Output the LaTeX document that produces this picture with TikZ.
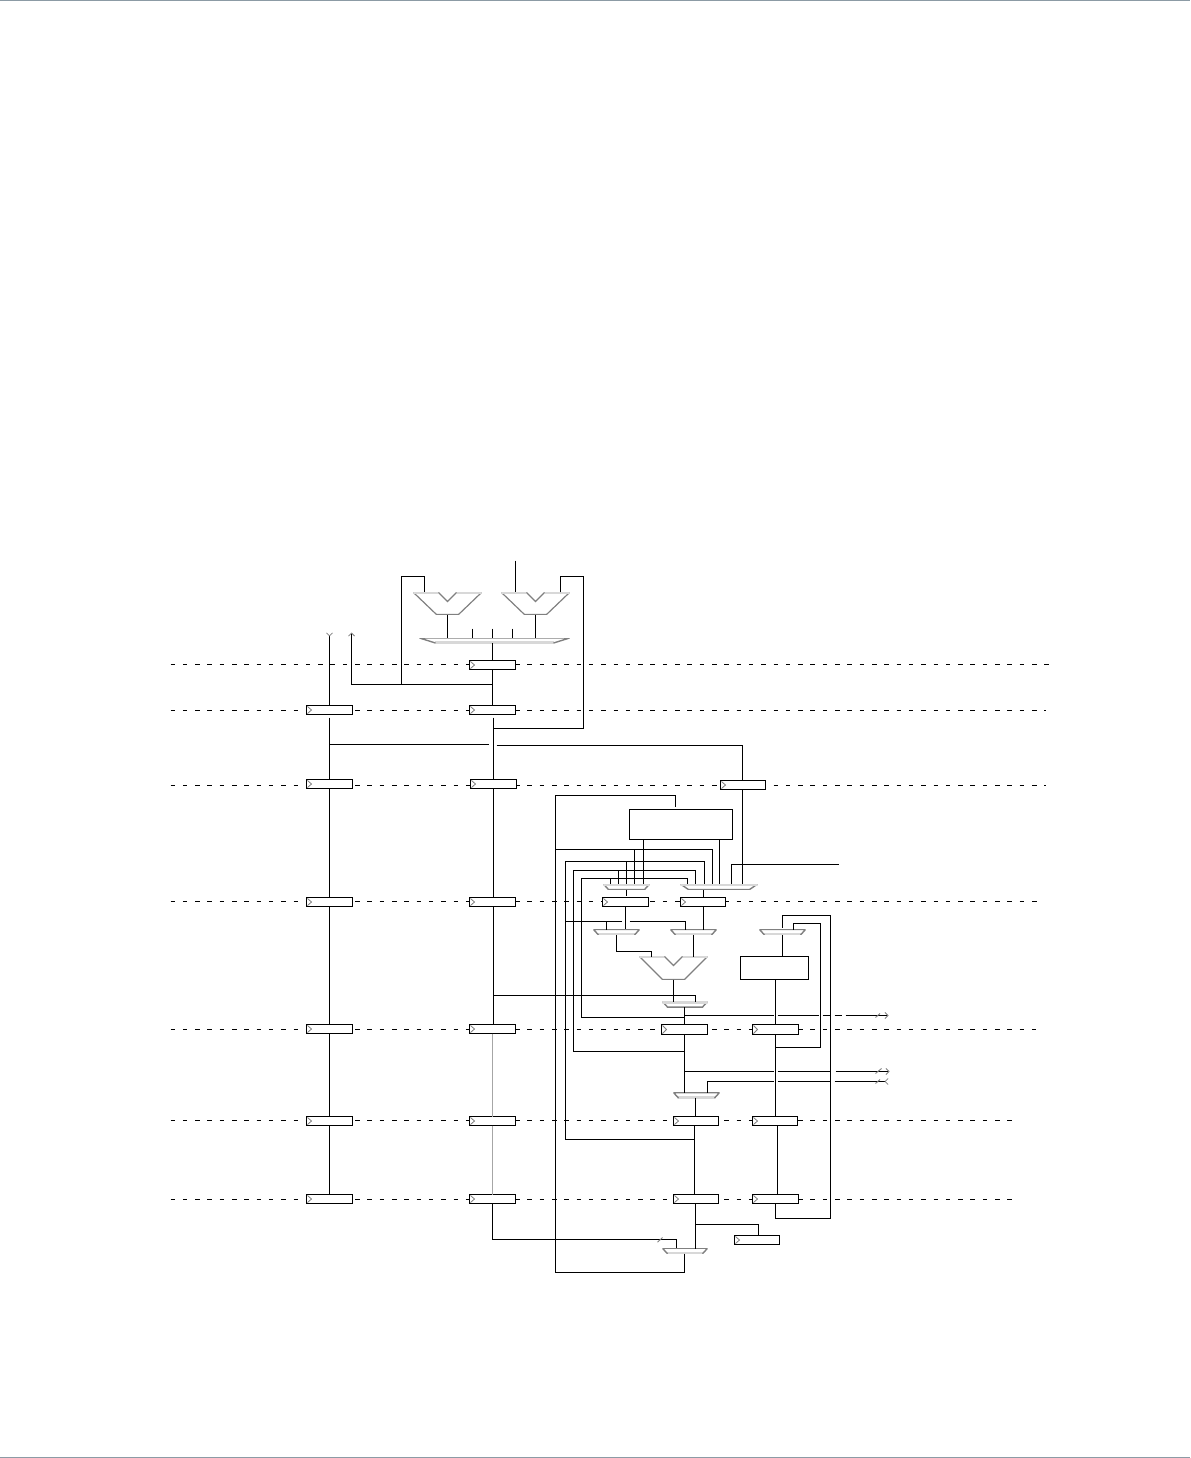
\documentclass[tikz,border=0pt]{standalone}
\usepackage{tikz}
\usetikzlibrary{arrows.meta,calc}
\definecolor{rulegray}{HTML}{8C9BA5}
\definecolor{ink}{HTML}{000000}
\definecolor{muted}{HTML}{808080}
\definecolor{pale}{HTML}{D8D8D8}
\tikzset{
  wire/.style={draw=ink,line width=0.0105cm},
  fadewire/.style={draw=muted!70,line width=0.0105cm},
  stage/.style={draw=ink,line width=0.0105cm,dash pattern=on 0.045cm off 0.078cm},
  slash/.style={draw=muted,line width=0.009cm},
  outtip/.style={-{Straight Barb[length=0.03cm,width=0.06cm,color=muted,line width=0.008cm]}},
  intip/.style={-{Straight Barb[reversed,length=0.03cm,width=0.06cm,color=muted,line width=0.008cm]}},
  regbox/.style={draw=ink,fill=white,line width=0.0105cm,inner sep=0pt,outer sep=0pt,
    minimum width=0.46cm,minimum height=0.09cm,
    path picture={\draw[muted,line width=0.008cm]
      ($(path picture bounding box.north west)+(1,1)$)--
      ($(path picture bounding box.west)+(5,0)$)--
      ($(path picture bounding box.south west)+(1,-1)$);}},
  blockbox/.style={draw=ink,fill=white,line width=0.0105cm,inner sep=0pt,outer sep=0pt},
  muxbox/.style={inner sep=0pt,outer sep=0pt,minimum width=0.46cm,minimum height=0.055cm,
    path picture={
      \draw[muted,line width=0.014cm]
        (path picture bounding box.north west)--
        ($(path picture bounding box.south west)+(#1,0)$)--
        ($(path picture bounding box.south east)+(-#1,0)$)--
        (path picture bounding box.north east);
      \draw[pale,line width=0.04cm]
        (path picture bounding box.north west)--(path picture bounding box.north east);}},
  muxbox/.default=5,
  muxlow/.style={inner sep=0pt,outer sep=0pt,minimum width=0.46cm,minimum height=0.055cm,
    path picture={
      \draw[pale,line width=0.04cm]
        ($(path picture bounding box.south west)+(#1,0)$)--
        ($(path picture bounding box.south east)+(-#1,0)$);
      \draw[muted,line width=0.014cm]
        ($(path picture bounding box.south west)+(#1,0)$)--
        (path picture bounding box.north west)--
        (path picture bounding box.north east)--
        ($(path picture bounding box.south east)+(-#1,0)$);}},
  muxlow/.default=5,
  alubox/.style={inner sep=0pt,outer sep=0pt,minimum width=0.68cm,minimum height=0.22cm,
    path picture={
      \draw[muted,line width=0.012cm]
        ($(path picture bounding box.north west)+(25,0)$)--
        ($(path picture bounding box.north)+(0,9)$)--
        ($(path picture bounding box.north east)+(-25,0)$);
      \draw[muted,line width=0.012cm]
        (path picture bounding box.north west)--
        ($(path picture bounding box.south west)+(23,0)$)--
        ($(path picture bounding box.south east)+(-23,0)$)--
        (path picture bounding box.north east);
      \draw[pale,line width=0.03cm]
        (path picture bounding box.north west)--++(25,0)
        (path picture bounding box.north east)--++(-25,0);}}
}
\begin{document}
\begin{tikzpicture}[x=0.01cm,y=-0.01cm,line cap=butt,line join=miter]
  \useasboundingbox (0,0) rectangle (1190,1458);
  \fill[rulegray] (0,0) rectangle (1190,1.4);
  \fill[rulegray] (0,1456.8) rectangle (1190,1458);

  \begin{scope}[shift={(0.5,0.5)}]
  % Stage lines
  \foreach \y/\xe in {664/1050,710/1045,785/1045,901/1040,1029/1035,1120/1015,1199/1015}
    \draw[stage] (170,\y)--(\xe,\y);

  % Registers
  \foreach \i/\y in {2/709.5,3/783.5,4/901.5,5/1028.5,6/1120.5,7/1198.5}
    \node[regbox] (regl\i) at (329,\y) {};
  \foreach \i/\x/\y in {1/492/664.5,2/492/709.5,3/493/783.5,4/492/901.5,5/492/1028.5,6/492/1120.5,7/492/1198.5}
    \node[regbox] (regm\i) at (\x,\y) {};
  \node[regbox,minimum width=0.45cm] (regc) at (742.5,784.5) {};
  \node[regbox] (rega1) at (625,901.5) {};
  \node[regbox,minimum width=0.45cm] (rega2) at (702.5,901.5) {};
  \node[regbox,minimum height=0.10cm] (regb1) at (684,1029) {};
  \node[regbox,minimum height=0.10cm] (regb2) at (775,1029) {};
  \node[regbox,minimum width=0.45cm] (regb3) at (695.5,1120.5) {};
  \node[regbox,minimum width=0.45cm] (regb4) at (774.5,1120.5) {};
  \node[regbox,minimum width=0.45cm] (regb5) at (695.5,1198.5) {};
  \node[regbox] (regb6) at (775,1198.5) {};
  \node[regbox,minimum width=0.45cm] (regd) at (756.5,1239.5) {};

  % Blocks
  \node[blockbox,minimum width=1.03cm,minimum height=0.30cm] (boxa) at (680.5,824) {};
  \node[blockbox,minimum width=0.68cm,minimum height=0.23cm] (boxb) at (774,967.5) {};
  \node[alubox] (alua) at (447,603) {};
  \node[alubox] (alub) at (535,603) {};
  \node[alubox,minimum height=0.23cm] (aluc) at (673,967.5) {};

  % Muxes
  \node[muxlow=16,minimum width=1.50cm,minimum height=0.05cm] (muxbig) at (494,640) {};
  \node[muxbox] (mux1) at (626,886.3) {};
  \node[muxbox=8,minimum width=0.77cm] (mux2) at (718.5,886.3) {};
  \node[muxlow] (mux3) at (616,931.7) {};
  \node[muxlow] (mux4) at (693,931.7) {};
  \node[muxlow] (mux5) at (782,931.7) {};
  \node[muxbox,minimum width=0.45cm] (mux6) at (684.5,1003.8) {};
  \node[muxlow] (mux7) at (696,1094.8) {};
  \node[muxlow,minimum width=0.45cm] (mux8) at (684.5,1250.5) {};

  % Top loop
  \coordinate (inb) at (515,560);
  \coordinate (fbla) at (424,576);
  \coordinate (fblb) at (401,684);
  \coordinate (fbra) at (560,576);
  \coordinate (fbrb) at (583,728);
  \coordinate (tapb) at (493,728);
  \coordinate (tapa) at (492,684);
  \coordinate (outa) at (351,632);
  \coordinate (inl) at (329,632);
  \draw[wire] (inb)--(inb |- alub.north);
  \draw[wire] (fblb) |- (fbla)--(fbla |- alua.north);
  \draw[wire] (fbra |- alub.north)--(fbra) -| (fbrb)--(tapb);
  \draw[wire,outtip] (tapa)-|(outa);
  \draw[wire] (alua.south)--(alua.south |- muxbig.north);
  \draw[wire] (alub.south)--(alub.south |- muxbig.north);
  \foreach \x in {472,492,512}
    \draw[wire] (\x,628)--(\x,637.5);
  \draw[wire] (regm1.north |- muxbig.south)--(regm1.north);

  % Left and middle columns
  \draw[wire,intip] (regl2.north)--(inl);
  \draw[wire,shorten <=0.03cm] (regl2.south)--(regl3.north);
  \foreach \a/\b in {3/4,4/5,5/6,6/7}
    \draw[wire] (regl\a.south)--(regl\b.north);
  \coordinate (colm) at (493,0);
  \draw[wire] (regm1.south)--(regm2.north);
  \draw[wire,shorten <=0.03cm] (regm2.south -| colm)--(regm3.north);
  \draw[wire] (regm3.south)--(regm4.north -| colm);
  \draw[wire] (regm4.south -| colm)--(regm5.north -| colm);
  \draw[fadewire] (regm5.south)--(regm6.north);
  \draw[fadewire] (regm6.south)--(regm7.north);
  \coordinate (tapl) at (329,744);
  \coordinate (tapm) at (488,744);
  \coordinate (tapr) at (496,745);
  \draw[wire] (tapl)--(tapm);
  \draw[wire] (tapr) -| (742,779);

  % Bypass buses
  \coordinate (busa) at (555,1272);
  \coordinate (busb) at (675,795);
  \draw[wire] (684,1253)--(684,1272)--(busa) |- (busb)--($(busb |- boxa.north)+(0,-2)$);
  \draw[wire] (555,849) -| (712,883.5);
  \foreach \tx/\ty/\bx/\by/\mx in {694/1139/565/861/704,683/1051/573/870/695,684/1017/581/878/687}
    \draw[wire] (\tx,\ty) -| (\bx,\by) -| (\mx,883.5);
  \foreach \x/\y in {634/849,626/861,618/870,610/878}
    \draw[wire] (\x,\y)--(\x,883.5);
  \foreach \x in {643,719}
    \draw[wire] (boxa.south -| \x,0)--(\x,883.5);
  \draw[wire] (742,789)--(742,883.5);
  \coordinate (sela) at (838,864);
  \draw[wire] (sela) -| (731,883.5);

  % Execute stage
  \draw[wire] (mux1.south)--++(0,6);
  \draw[wire] (703,897)--(703,889);
  \draw[wire] (rega1.south)--(rega1.south |- mux3.north);
  \draw[wire] (703,906)--(703,929);
  \draw[wire] (565,921)--(621,921);
  \draw[wire] (629,921) -| (685,929);
  \draw[wire] (606,921)--(606,929);
  \coordinate (porta) at (651,951);
  \draw[wire] (mux3.south) |- (porta)--(porta |- aluc.north);
  \draw[wire] (mux4.south)--(mux4.south |- aluc.north);
  \draw[wire] (aluc.south)--(aluc.south |- mux6.north);
  \draw[wire] (regb1.north |- mux6.south)--(regb1.north);
  \coordinate (tapc) at (493,995);
  \coordinate (insel) at (695,995);
  \draw[wire] (tapc)--(insel)--(insel |- mux6.north);
  \draw[wire] (mux5.south)--(mux5.south |- boxb.north);
  \draw[wire] (boxb.south -| regb2.north)--(regb2.north);
  \draw[wire] (782,927)--(782,915) -| (830,1218) -| (regb6.south);
  \draw[wire] (793,929) |- (820,923) |- (775,1047);

  % Outgoing wires
  \draw[wire] (684,1015)--(773,1015) (777,1015)--(818,1015) (822,1015)--(830,1015) (834,1015)--(841,1015);
  \draw[wire,outtip] (845,1015)--(888,1015);
  \draw[slash] (875,1017)--(879.5,1013);
  \draw[wire] (684,1071)--(773,1071) (777,1071)--(829,1071);
  \draw[wire,outtip] (835,1071)--(889,1071);
  \draw[slash] (875,1073)--(881,1068);
  \draw[wire] (707,1092)--(707,1081)--(773,1081) (777,1081)--(829,1081);
  \draw[wire,intip] (834,1081)--(888,1081);
  \draw[slash] (875,1083)--(879.5,1079);

  % Memory stages
  \draw[wire] (regb1.south)--(regb1.south |- mux7.north);
  \draw[wire] (695,1097)--(695,1116);
  \draw[wire] (regb2.south)--(775,1115);
  \draw[wire] (694,1125)--(694,1194);
  \draw[wire] ($(regb4.south)+(2.5,0)$)--($(regb6.north)+(2,-1)$);
  \draw[wire] (695,1203)--(695,1248);
  \coordinate (tapd) at (695,1224);
  \draw[wire] (tapd) -| (758,1235);
  \coordinate (mbus) at (676,1239);
  \draw[wire] (regm7.south) |- (mbus)--(mbus |- mux8.north);
  \draw[slash] (657,1241.7)--(662,1237);
  \end{scope}
\end{tikzpicture}
\end{document}
